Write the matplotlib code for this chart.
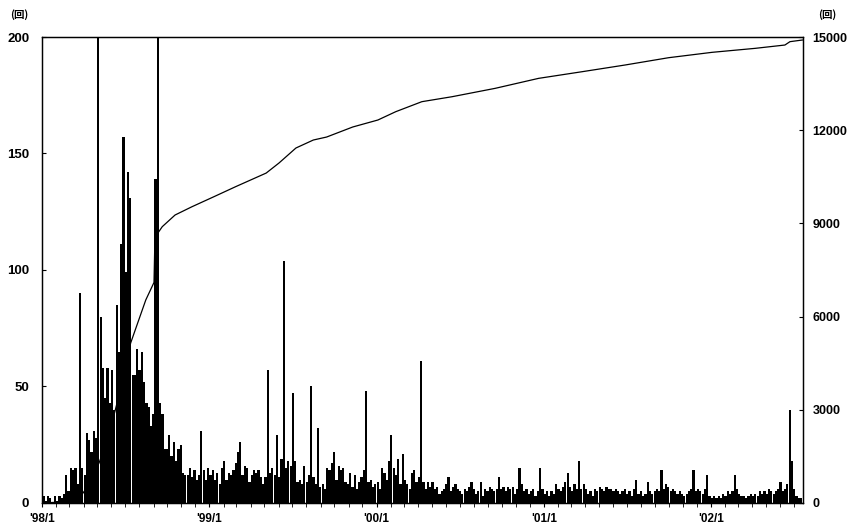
import numpy as np
import pandas as pd
import matplotlib
matplotlib.use("Agg")
import matplotlib.pyplot as plt
import matplotlib.dates as mdates

plt.rcParams['font.family'] = ['Liberation Sans', 'Noto Sans CJK JP']

# counts per 5-day slot (peak daily value), from 1998/1/1
bar_start = "1998-01-01"
counts = [
    3, 1, 3, 2, 0, 3, 1, 3, 2, 4, 12, 5, 15, 14, 15, 8, 90, 15, 12, 30,
    27, 22, 31, 28, 240, 80, 58, 45, 58, 43, 57, 40, 85, 65, 111, 157, 99, 142, 131, 55,
    55, 66, 57, 65, 52, 43, 41, 33, 38, 139, 250, 43, 38, 23, 23, 29, 20, 26, 18, 23,
    25, 13, 12, 12, 15, 11, 14, 10, 12, 31, 14, 10, 15,
    12, 14, 10, 13, 8, 15, 18, 10, 13, 12, 14, 17, 22, 26, 12, 16, 15, 9, 12, 14,
    13, 14, 11, 8, 11, 57, 13, 15, 12, 29, 11, 19, 104, 15, 18, 16, 47, 18, 9, 10,
    8, 16, 9, 12, 50, 11, 8, 32, 7, 8, 6, 15, 14, 17, 22, 10, 16, 14, 15, 9,
    8, 13, 7, 12, 6, 9, 11, 14, 48, 9, 10, 7, 8,
    9, 6, 15, 13, 10, 18, 29, 15, 12, 19, 8, 21, 10, 8, 6, 13, 14, 9, 11, 61,
    9, 6, 9, 7, 9, 6, 7, 4, 5, 6, 8, 11, 5, 7, 8, 6, 5, 4, 6, 5,
    7, 9, 6, 4, 5, 9, 3, 6, 5, 7, 6, 5, 6, 11, 6, 7, 5, 7, 6, 7,
    4, 6, 15, 8, 5, 6, 4, 5, 6, 3, 5, 15, 6, 4,
    5, 3, 5, 4, 8, 6, 5, 7, 9, 13, 7, 5, 8, 6, 18, 6, 8, 6, 4, 5,
    3, 6, 5, 7, 6, 5, 7, 6, 6, 5, 6, 5, 4, 5, 6, 4, 5, 3, 6, 10,
    4, 5, 3, 4, 9, 5, 4, 5, 6, 5, 14, 6, 8, 7, 5, 6, 5, 4, 5, 4,
    3, 4, 5, 6, 14, 5, 6, 5, 4, 6, 12, 3, 2,
    3, 2, 3, 2, 4, 3, 5, 4, 5, 12, 6, 4, 3, 3, 2, 3, 4, 3, 4, 3,
    5, 4, 5, 4, 6, 5, 4, 5, 6, 9, 5, 6, 8, 40, 18, 6, 3, 2, 2,
]

# cumulative count (right axis)
cum_dates = [
    "1998-01-01", "1998-03-01", "1998-03-23", "1998-04-06", "1998-04-14",
    "1998-05-05", "1998-05-27", "1998-06-18", "1998-07-13", "1998-08-15",
    "1998-09-02", "1998-09-04", "1998-09-20", "1998-10-18", "1998-11-24",
    "1999-01-11", "1999-02-27", "1999-05-05", "1999-06-02", "1999-07-09",
    "1999-08-16", "1999-09-14", "1999-11-10", "2000-01-04", "2000-02-12",
    "2000-04-09", "2000-06-14", "2000-09-16", "2000-12-20", "2001-03-25",
    "2001-06-27", "2001-09-30", "2002-01-03", "2002-04-07", "2002-06-11",
    "2002-06-22", "2002-07-19",
]
cum_vals = [
    0, 40, 150, 450, 600,
    1290, 2200, 3500, 5150, 6534,
    7100, 8550, 8894, 9270, 9537,
    9860, 10180, 10620, 10944, 11427,
    11684, 11780, 12103, 12328, 12596,
    12918, 13078, 13347, 13669, 13883,
    14099, 14334, 14507, 14635, 14742,
    14850, 14903,
]

xtick_dates = ["1998-01-01", "1999-01-01", "2000-01-01", "2001-01-01", "2002-01-01"]
xtick_labels = ["'98/1", "'99/1", "'00/1", "'01/1", "'02/1"]

bar_dates = pd.date_range(bar_start, periods=len(counts), freq="5D")

fig = plt.figure(figsize=(8.54, 5.25), dpi=100)
ax = fig.add_axes([0.049, 0.042, 0.891, 0.8875])
ax.bar(bar_dates, counts, width=4.8, align="edge", color="black", linewidth=0)
ax.set_ylim(0, 200)
ax.set_xlim(pd.Timestamp("1997-12-31"), pd.Timestamp("2002-07-20"))
ax.set_yticks([0, 50, 100, 150, 200])
ax.tick_params(axis="y", direction="in", length=3, labelsize=9.5, pad=9)
for t in ax.get_yticklabels():
    t.set_fontweight("bold")
ax.set_xticks(pd.to_datetime(xtick_dates))
ax.set_xticklabels(xtick_labels, fontsize=8.5, fontweight="bold")
ax.xaxis.set_minor_locator(mdates.MonthLocator())
ax.tick_params(axis="x", which="both", direction="out", length=3, pad=4)

ax2 = ax.twinx()
ax2.plot(pd.to_datetime(cum_dates), cum_vals, color="black", lw=0.9)
ax2.set_ylim(0, 15000)
ax2.set_yticks([0, 3000, 6000, 9000, 12000, 15000])
ax2.tick_params(axis="y", direction="in", length=3, labelsize=9, pad=7)
for t in ax2.get_yticklabels():
    t.set_fontweight("bold")

for a in (ax, ax2):
    for s in a.spines.values():
        s.set_linewidth(0.9)

fig.text(0.012, 0.965, "(回)", fontsize=7.5, fontweight="bold", family=["Noto Sans CJK JP"])
fig.text(0.958, 0.965, "(回)", fontsize=7.5, fontweight="bold", family=["Noto Sans CJK JP"])

fig.savefig("out.png", dpi=100)
